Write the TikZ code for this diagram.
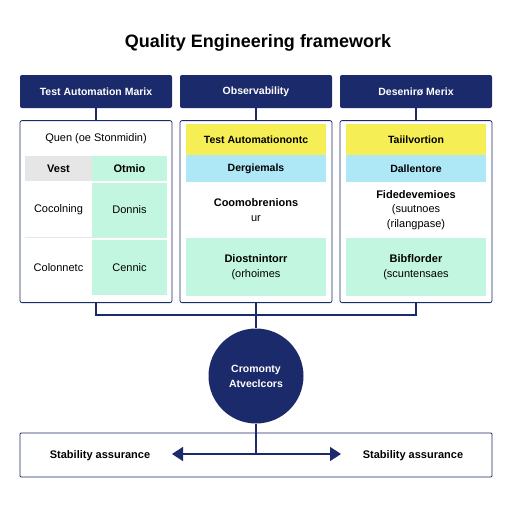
\documentclass[tikz,border=0pt]{standalone}
\usepackage{fontspec}
\setmainfont{Liberation Sans}
\usetikzlibrary{positioning,arrows.meta}
\definecolor{qnavy}{HTML}{1B2A6B}
\definecolor{qyellow}{HTML}{F6EE55}
\definecolor{qcyan}{HTML}{AEE7F6}
\definecolor{qmint}{HTML}{C2F6E0}
\definecolor{qgray}{HTML}{E6E6E6}

\begin{document}
\begin{tikzpicture}[
      x=1pt, y=-1pt,
      node distance=12pt,
      every node/.style={font=\fontsize{11}{14.5}\selectfont, inner sep=0pt, align=center},
      hdr/.style={
        rounded corners=2pt,
        fill=qnavy,
        text=white,
        font=\fontsize{10.5}{12}\selectfont\bfseries,
        minimum width=152pt,
        minimum height=33pt
      },
      panel/.style={
        rounded corners=2pt,
        draw=qnavy,
        line width=0.8pt,
        fill=white,
        minimum width=152pt,
        minimum height=182pt
      },
      band/.style={minimum width=140pt, font=\fontsize{10.5}{12}\selectfont\bfseries},
      cell/.style={minimum height=55pt},
      conn/.style={draw=qnavy, line width=1.6pt},
      tip/.style={conn, {Triangle[length=11pt,width=14pt]}-{Triangle[length=11pt,width=14pt]}},
      hub/.style={
        circle,
        fill=qnavy,
        text=white,
        minimum size=95pt,
        font=\fontsize{10.5}{15}\selectfont\bfseries
      }
    ]
      \useasboundingbox[fill=white] (0,0) rectangle (512,512);
      \node[font=\fontsize{18}{20}\selectfont\bfseries] (ttl) at (258,43) {Quality Engineering framework};

      \node[hdr] (hA) at (96,91.5) {Test Automation Marix};
      \node[hdr] (hB) at (256,91.5) {Observability};
      \node[hdr] (hC) at (416,91.5) {Desenirø Merix};
      \node[panel, below=of hA] (pA) {};
      \node[panel, below=of hB] (pB) {};
      \node[panel, below=of hC] (pC) {};
      \draw[conn] (hA) -- (pA);
      \draw[conn] (hB) -- (pB);
      \draw[conn] (hC) -- (pC);

      \node (qA) at (96,139) {Quen (oe Stonmidin)};
      \node[fill=qgray, minimum width=67pt, minimum height=25pt, font=\fontsize{11}{13}\selectfont\bfseries] (tA) at (58.5,168.5) {Vest};
      \node[fill=qmint, minimum width=75pt, minimum height=25pt, font=\fontsize{11}{13}\selectfont\bfseries] (tB) at (129.5,168.5) {Otmio};
      \node[cell, minimum width=67pt] (tC) at (58.5,210) {Cocolning};
      \node[cell, fill=qmint, minimum width=75pt] (tD) at (129.5,210) {Donnis};
      \node[cell, minimum width=67pt] (tE) at (58.5,267.5) {Colonnetc};
      \node[cell, fill=qmint, minimum width=75pt] (tF) at (129.5,267.5) {Cennic};
      \draw[qgray, line width=0.8pt] (tC.south west) -- (tC.south east);

      \node[band, fill=qyellow, minimum height=31pt] (yB) at (256,139.5) {Test Automationontc};
      \node[band, fill=qcyan, minimum height=27pt] (cB) at (256,168.5) {Dergiemals};
      \node (xB) at (256,210) {{\bfseries Coomobrenions}\\ur};
      \node[band, fill=qmint, minimum height=58pt, font=\fontsize{11}{14.5}\selectfont] (mB) at (256,267) {{\bfseries Diostnintorr}\\(orhoimes};

      \node[band, fill=qyellow, minimum height=31pt] (yC) at (416,139.5) {Taiilvortion};
      \node[band, fill=qcyan, minimum height=27pt] (cC) at (416,168.5) {Dallentore};
      \node (xC) at (416,210) {{\bfseries Fidedevemioes}\\(suutnoes\\(rilangpase)};
      \node[band, fill=qmint, minimum height=58pt, font=\fontsize{11}{14.5}\selectfont] (mC) at (416,267) {{\bfseries Bibflorder}\\(scuntensaes};

      \node[hub] (hub) at (256,376) {Cromonty\\Atveclcors};
      \coordinate (jA) at (96,315);
      \coordinate (jC) at (416,315);
      \draw[conn] (pA) -- (jA) -- (jC) -- (pC);
      \draw[conn] (pB) -- (hub);

      \node[draw=qnavy, line width=0.8pt, rounded corners=1pt, minimum width=472pt, minimum height=44pt] (bt) at (256,455) {};
      \node[font=\fontsize{11}{13}\selectfont\bfseries] (sL) at (100,456) {Stability assurance};
      \node[font=\fontsize{11}{13}\selectfont\bfseries] (sR) at (413,456) {Stability assurance};
      \coordinate (jD) at (256,454);
      \coordinate (aL) at (172,454);
      \coordinate (aR) at (341,454);
      \draw[conn] (hub) -- (jD);
      \draw[tip] (aL) -- (aR);
    \end{tikzpicture}
\end{document}
